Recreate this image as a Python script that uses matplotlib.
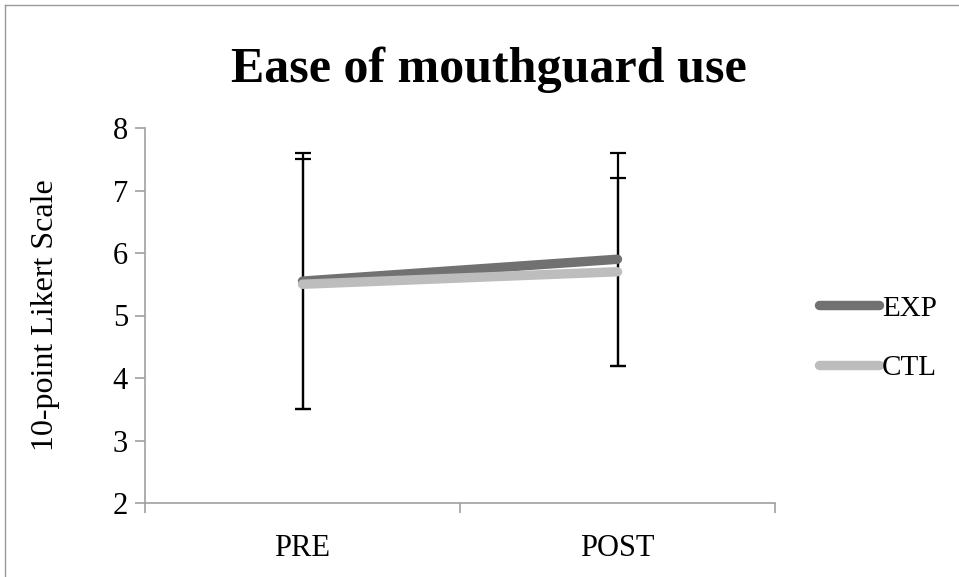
import matplotlib
matplotlib.use("Agg")
import matplotlib.pyplot as plt
from matplotlib.lines import Line2D

categories = ["PRE", "POST"]
exp_mean = [5.55, 5.9]
exp_err = [2.05, 1.7]
ctl_mean = [5.5, 5.7]
ctl_err = [2.0, 1.5]
yticks = [2, 3, 4, 5, 6, 7, 8]

plt.rcParams['font.family'] = ['Liberation Serif', 'DejaVu Serif']

fig = plt.figure(figsize=(9.59, 5.77), dpi=100)
ax = fig.add_axes([145/959, 74/577, 630/959, 375/577])

x = [0.5, 1.5]
ax.errorbar(x, exp_mean, yerr=exp_err, fmt='none', ecolor='black', elinewidth=1.6, capsize=5.8, capthick=1.6, zorder=2)
ax.errorbar(x, ctl_mean, yerr=ctl_err, fmt='none', ecolor='black', elinewidth=1.6, capsize=5.8, capthick=1.6, zorder=2)
ax.plot(x, exp_mean, color='#717171', lw=6.8, solid_capstyle='round', zorder=3, label='EXP')
ax.plot(x, ctl_mean, color='#bdbdbd', lw=6.8, solid_capstyle='round', zorder=4, label='CTL')

ax.set_xlim(0, 2)
ax.set_ylim(2, 8)
ax.set_yticks(yticks)
ax.set_yticklabels([str(v) for v in yticks], fontsize=22)
ax.set_xticks([0, 1, 2])
ax.set_xticklabels([])
ax.set_xticks(x, minor=True)
ax.set_xticklabels(categories, minor=True, fontsize=22)
ax.tick_params(axis='x', which='minor', length=0, pad=22)
ax.tick_params(axis='x', which='major', length=7.2, width=1.2, color='#a0a0a0', direction='out')
ax.tick_params(axis='y', length=7.2, width=1.2, color='#a0a0a0', direction='out', pad=5)

for s in ['top', 'right']:
    ax.spines[s].set_visible(False)
for s in ['left', 'bottom']:
    ax.spines[s].set_color('#a0a0a0')
    ax.spines[s].set_linewidth(1.2)

ax.set_ylabel("10-point Likert Scale", fontsize=23, labelpad=38)
fig.text(489/959, 1 - 70/577, "Ease of mouthguard use", ha='center', va='center',
         fontsize=36, fontweight='bold')

leg = fig.legend(loc='center left', bbox_to_anchor=(819/959, 1 - 338/577), frameon=False,
                 fontsize=21, handlelength=2.05, handletextpad=0.1, labelspacing=1.12,
                 borderaxespad=0, borderpad=0)

fig.add_artist(Line2D([5/959, 5/959], [0, 1 - 5/577], transform=fig.transFigure, color='#999999', lw=1))
fig.add_artist(Line2D([5/959, 1], [1 - 5/577, 1 - 5/577], transform=fig.transFigure, color='#999999', lw=1))

fig.savefig("out.png", dpi=100)
